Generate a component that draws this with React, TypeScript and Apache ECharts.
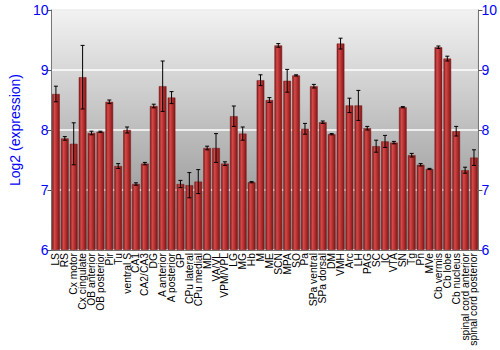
import React, { useEffect, useRef } from "react";
import * as echarts from "echarts";

const categories = [
  "LS", "RS", "Cx motor", "Cx cingulate", "OB anterior", "OB posterior", "Pir", "Tu",
  "ventral S", "CA1", "CA2/CA3", "DG", "A anterior", "A posterior", "GP", "CPu lateral",
  "CPu medial", "MD", "VA/VL", "VPM/VPL", "LG", "MG", "Hb", "M", "ME", "SCN", "MPA", "SO",
  "Pa", "SPa ventral", "SPa dorsal", "DM", "VMH", "Arc", "LH", "PAG", "SC", "IC", "VTA",
  "SN", "Tg", "Pn", "MVe", "Cb vermis", "Cb lobe", "Cb nucleus", "spinal cord anterior",
  "spinal cord posterior",
];

const values = [
  8.6, 7.86, 7.77, 8.88, 7.95, 7.97, 8.47, 7.4,
  8.0, 7.1, 7.44, 8.4, 8.73, 8.54, 7.1, 7.08,
  7.14, 7.7, 7.7, 7.44, 8.23, 7.94, 7.13, 8.83, 8.5, 9.41, 8.82, 8.91,
  8.02, 8.73, 8.13, 7.93, 9.44, 8.41, 8.41, 8.03, 7.73, 7.81, 7.79,
  8.38, 7.58, 7.42, 7.35, 9.38, 9.19, 7.98, 7.33,
  7.54,
];

const errors = [
  0.13, 0.03, 0.35, 0.53, 0.03, 0.01, 0.03, 0.04,
  0.05, 0.02, 0.02, 0.03, 0.42, 0.1, 0.06, 0.21,
  0.2, 0.03, 0.24, 0.03, 0.17, 0.11, 0.01, 0.09, 0.04, 0.03, 0.19, 0.01,
  0.09, 0.03, 0.02, 0.01, 0.09, 0.12, 0.25, 0.03, 0.1, 0.1, 0.02,
  0.01, 0.03, 0.02, 0.01, 0.02, 0.04, 0.08, 0.05,
  0.13,
];

const yTicks = [6, 7, 8, 9, 10];

export default function App() {
  const ref = useRef<HTMLDivElement>(null);
  useEffect(() => {
    if (!ref.current) return;
    const chart = echarts.init(ref.current, null, { renderer: "svg" });
    const font = "'Liberation Sans', Arial, sans-serif";
    const yAxisBase = {
      type: "value" as const,
      min: yTicks[0],
      max: yTicks[yTicks.length - 1],
      interval: 1,
      startValue: yTicks[0],
      axisLine: { show: true, lineStyle: { color: "#777", width: 1 } },
      axisTick: { show: true, length: 4, lineStyle: { color: "#555" } },
      axisLabel: { color: "#0000ff", fontSize: 14, fontFamily: font, margin: 3 },
    };
    const errData = values.map((v, i) => [i, v - errors[i], v + errors[i]]);
    chart.setOption({
      animation: false,
      grid: {
        left: 35,
        right: 21,
        top: 10,
        bottom: 100,
        show: true,
        borderColor: "#888",
        borderWidth: 1,
        backgroundColor: {
          type: "linear",
          x: 0, y: 0, x2: 0, y2: 1,
          colorStops: [
            { offset: 0, color: "#f2f2f2" },
            { offset: 1, color: "#888888" },
          ],
        },
      },
      xAxis: {
        type: "category",
        data: categories,
        axisLine: { show: true, lineStyle: { color: "#777" } },
        axisTick: { show: false },
        axisLabel: {
          rotate: 90,
          interval: 0,
          fontSize: 10.3,
          fontFamily: font,
          color: "#000",
          margin: 3,
        },
      },
      yAxis: [
        {
          ...yAxisBase,
          position: "left",
          name: "Log2 (expression)",
          nameLocation: "middle",
          nameGap: 24,
          nameTextStyle: { color: "#0000ff", fontSize: 14, fontFamily: font },
          splitLine: { show: true, lineStyle: { color: "rgba(255,255,255,0.75)", width: 2 } },
        },
        {
          ...yAxisBase,
          position: "right",
          splitLine: { show: false },
        },
      ],
      series: [
        {
          type: "bar",
          data: values,
          barWidth: "86%",
          itemStyle: {
            borderColor: "#7a1a1a",
            borderWidth: 0.5,
            color: {
              type: "linear",
              x: 0, y: 0, x2: 1, y2: 0,
              colorStops: [
                { offset: 0, color: "#7e1616" },
                { offset: 0.3, color: "#d24a4a" },
                { offset: 0.6, color: "#b83030" },
                { offset: 1, color: "#7e1616" },
              ],
            },
          },
        },
        {
          type: "custom",
          data: errData,
          z: 10,
          renderItem: (params: any, api: any) => {
            const x = api.value(0);
            const lo = api.coord([x, api.value(1)]);
            const hi = api.coord([x, api.value(2)]);
            const cap = 2;
            const style = { stroke: "#000", lineWidth: 1 };
            return {
              type: "group",
              children: [
                { type: "line", shape: { x1: lo[0], y1: lo[1], x2: hi[0], y2: hi[1] }, style },
                { type: "line", shape: { x1: lo[0] - cap, y1: lo[1], x2: lo[0] + cap, y2: lo[1] }, style },
                { type: "line", shape: { x1: hi[0] - cap, y1: hi[1], x2: hi[0] + cap, y2: hi[1] }, style },
              ],
            };
          },
        },
      ],
    });
    return () => chart.dispose();
  }, []);
  return (
    <div
      ref={ref}
      style={{ position: "absolute", left: 0, top: 0, width: 500, height: 350 }}
    />
  );
}
